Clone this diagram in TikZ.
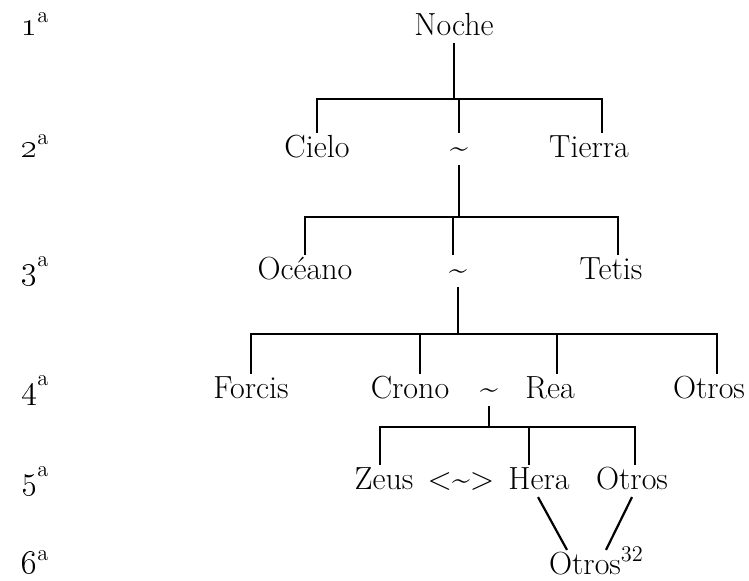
\documentclass[tikz,border=0pt]{standalone}
\begin{document}
\begin{tikzpicture}[x=0.5pt,y=-0.5pt,
	every node/.style={font=\fontsize{16}{19}\selectfont},
	gen/.style={anchor=base, inner sep=0.5pt, text height=11pt, text depth=3pt},
	every path/.style={line width=1.1pt}]
	\useasboundingbox (0,0) rectangle (749,580);
	% generaciones
	\foreach \n/\y in {1/35,2/157,3/279,4/398,5/489,6/573}
		\node[anchor=base west, inner sep=0pt] (gen\n) at (20,\y) {\oldstylenums{\n}\textsuperscript{a}};
	% dioses
	\node[gen] (noche) at (454,35) {Noche};
	\node[gen] (cielo) at (317,157) {Cielo};
	\node[gen] (union2) at (459,157) {\textasciitilde};
	\node[gen] (tierra) at (589,157) {Tierra};
	\node[gen] (oceano) at (305,279) {Océano};
	\node[gen] (union3) at (458,279) {\textasciitilde};
	\node[gen] (tetis) at (611,279) {Tetis};
	\node[gen] (forcis) at (251,398) {Forcis};
	\node[gen] (crono) at (410,398) {Crono};
	\node[gen] (union4) at (489,398) {\textasciitilde};
	\node[gen] (rea) at (550,398) {Rea};
	\node[gen] (otrosTitanes) at (709,398) {Otros};
	\node[gen] (zeus) at (384,489) {Zeus};
	\node[gen] (union5) at (461,489) {\textless\textasciitilde\textgreater};
	\node[gen] (hera) at (539,489) {Hera};
	\node[gen] (otrosOlimpo) at (632,489) {Otros};
	\node[gen, anchor=base west] (otrosHijos) at (547,574) {Otros\textsuperscript{32}};
	% barras
	\coordinate (b1) at (454,99);
	\coordinate (b2) at (458,217);
	\coordinate (b3) at (458,334);
	\coordinate (b4) at (489,427);
	\draw (noche) -- (noche |- b1);
	\draw (cielo.north) |- ([xshift=6.5pt]tierra.north |- b1) -- ([xshift=6.5pt]tierra.north);
	\draw (union2.north) -- (union2 |- b1);
	\draw (union2) -- (union2 |- b2);
	\draw (oceano.north) |- ([xshift=3.5pt]tetis.north |- b2) -- ([xshift=3.5pt]tetis.north);
	\draw ([xshift=-2.5pt]union3.north) -- ([xshift=-2.5pt]union3.north |- b2);
	\draw (union3) -- (union3 |- b3);
	\draw (forcis.north) |- ([xshift=4pt]otrosTitanes.north |- b3) -- ([xshift=4pt]otrosTitanes.north);
	\draw ([xshift=5pt]crono.north) -- ([xshift=5pt]crono.north |- b3);
	\draw ([xshift=3.5pt]rea.north) -- ([xshift=3.5pt]rea.north |- b3);
	\draw (union4) -- (union4 |- b4);
	\draw ([xshift=-2pt]zeus.north) |- ([xshift=1.5pt]otrosOlimpo.north |- b4) -- ([xshift=1.5pt]otrosOlimpo.north);
	\draw ([xshift=-5pt]hera.north) -- ([xshift=-5pt]hera.north |- b4);
	% descendencia
	\draw ([xshift=-0.5pt]hera.south) -- ([xshift=10pt]otrosHijos.north west);
	\draw (otrosOlimpo.south) -- ([xshift=29.5pt]otrosHijos.north west);
\end{tikzpicture}
\end{document}
